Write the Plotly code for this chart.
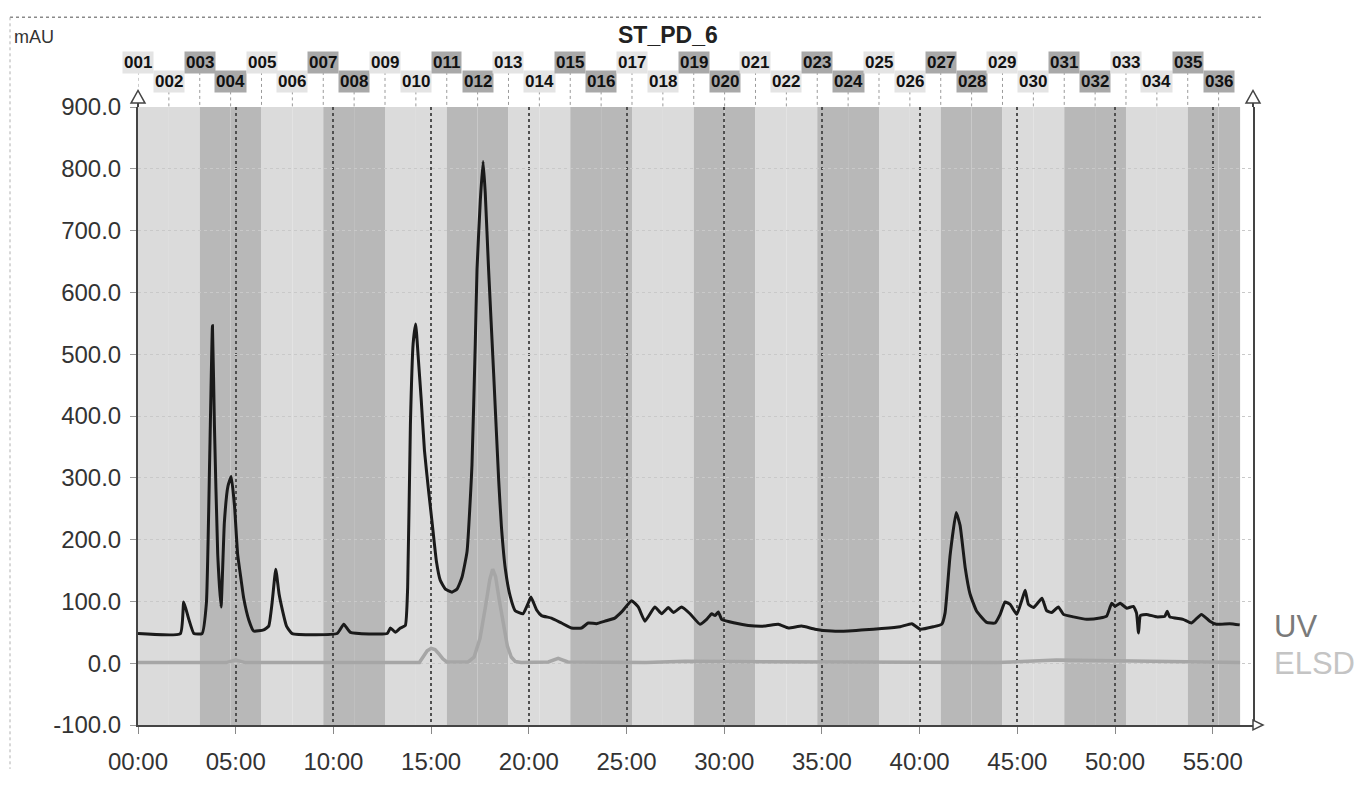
import plotly.graph_objects as go

# ---------------- data ----------------
uv_time = [0, 2.17, 2.34, 2.6, 2.86, 3.28, 3.5, 3.67, 3.81, 3.91, 4.08, 4.25, 4.42, 4.6, 4.77,
           4.94, 5.1, 5.28, 5.41, 5.67, 5.92, 6.43, 6.69, 6.86, 7.05, 7.22, 7.39, 7.6, 7.89,
           10.19, 10.53, 10.87, 12.75, 12.92, 13.17, 13.43, 13.68, 13.8, 13.94, 14.08, 14.21,
           14.35, 14.49, 14.66, 14.88, 15.05, 15.27, 15.47, 15.73, 16.07, 16.33, 16.58, 16.84,
           17.09, 17.26, 17.35, 17.52, 17.66, 17.77, 17.94, 18.2, 18.46, 18.6, 18.8, 19.05,
           19.3, 19.7, 19.94, 20.11, 20.4, 20.65, 21.16, 21.67, 22.18, 22.7, 23.04, 23.46,
           23.89, 24.4, 24.75, 25.26, 25.6, 25.94, 26.45, 26.8, 27.14, 27.4, 27.82, 28.25,
           28.76, 29.1, 29.36, 29.53, 29.7, 29.87, 30.55, 31.23, 32.09, 32.77, 33.28, 33.96,
           34.64, 35.5, 36.35, 37.2, 38.06, 39.0, 39.6, 40.03, 40.7, 41.13, 41.3, 41.56,
           41.87, 42.07, 42.33, 42.58, 42.92, 43.43, 43.86, 44.12, 44.37, 44.63, 44.97,
           45.23, 45.4, 45.57, 45.83, 46.26, 46.5, 46.76, 47.1, 47.36, 47.87, 48.55, 49.23,
           49.57, 49.83, 50.0, 50.26, 50.6, 50.94, 51.1, 51.2, 51.3, 51.6, 52.13, 52.55,
           52.67, 52.8, 53.48, 53.91, 54.42, 54.85, 55.19, 55.87, 56.38]
uv_mau = [48, 48, 99, 71, 48, 48, 97, 333, 546, 386, 176, 91, 228, 286, 302,
          254, 176, 134, 105, 70, 52, 54, 60, 97, 152, 112, 86, 60, 48,
          48, 63, 50, 48, 57, 50, 57, 61, 123, 386, 517, 549,
          491, 428, 344, 276, 228, 165, 134, 120, 115, 120, 139, 181,
          320, 517, 638, 750, 812, 761, 638, 469, 295, 220, 152, 108,
          85, 80, 95, 107, 86, 77, 73, 65, 57, 57, 65, 64,
          68, 73, 83, 101, 91, 68, 91, 80, 90, 82, 91, 80,
          63, 71, 80, 77, 83, 71, 65, 61, 60, 63, 57, 60,
          55, 52, 52, 54, 56, 59, 64, 55, 59, 63, 81, 175,
          244, 223, 155, 112, 84, 66, 65, 79, 99, 95, 79,
          102, 118, 95, 90, 105, 85, 82, 91, 79, 75, 71, 73,
          76, 97, 92, 97, 89, 92, 81, 49, 77, 79, 75, 76,
          84, 75, 71, 65, 79, 68, 63, 64, 62]

elsd_time = [0, 4.5, 5.0, 5.5, 14.4, 14.6, 14.8, 15.0, 15.2, 15.4, 15.6, 15.8, 16.9, 17.2, 17.5,
             17.8, 18.0, 18.15, 18.3, 18.5, 18.7, 18.9, 19.1, 19.3, 19.6, 21.0, 21.5, 22.0,
             26.0, 28.0, 44.0, 47.0, 50.0, 53.0, 56.4]
elsd_mau = [1, 1, 5, 1, 1, 10, 20, 24, 22, 15, 7, 2, 2, 10, 40,
            95, 135, 152, 140, 100, 60, 28, 10, 3, 1, 2, 8, 2,
            1, 3, 1, 5, 4, 2, 1]

fraction_labels = ["001", "002", "003", "004", "005", "006", "007", "008", "009", "010",
                   "011", "012", "013", "014", "015", "016", "017", "018", "019", "020",
                   "021", "022", "023", "024", "025", "026", "027", "028", "029", "030",
                   "031", "032", "033", "034", "035", "036"]
fraction_starts = [0.00, 1.58, 3.16, 4.74, 6.32, 7.90, 9.48, 11.06, 12.64, 14.22,
                   15.80, 17.38, 18.96, 20.54, 22.12, 23.70, 25.28, 26.86, 28.44, 30.02,
                   31.60, 33.18, 34.76, 36.34, 37.92, 39.50, 41.08, 42.66, 44.24, 45.82,
                   47.40, 48.98, 50.56, 52.14, 53.72, 55.30]
run_end = 56.40

x_tick_vals = [0, 5, 10, 15, 20, 25, 30, 35, 40, 45, 50, 55]
x_tick_text = ["00:00", "05:00", "10:00", "15:00", "20:00", "25:00", "30:00", "35:00",
               "40:00", "45:00", "50:00", "55:00"]
y_tick_vals = [-100, 0, 100, 200, 300, 400, 500, 600, 700, 800, 900]
y_tick_text = ["-100.0", "0.0", "100.0", "200.0", "300.0", "400.0", "500.0", "600.0",
               "700.0", "800.0", "900.0"]

title_text = "ST_PD_6"
y_unit = "mAU"

# ---------------- geometry ----------------
W, H = 1367, 787
ML, MR, MT, MB = 138, 114, 107, 46
PW, PH = W - ML - MR, H - MT - MB
XMAX = 57.06
FONT = "Liberation Sans, Arial, sans-serif"


def pxx(px):
    return (px - ML) / PW


def pyy(py):
    return (H - MB - py) / PH


LIGHT = "#dbdbdb"
DARK = "#b8b8b8"

fig = go.Figure()
fig.add_trace(go.Scatter(x=elsd_time, y=elsd_mau, mode="lines", name="ELSD",
                         line=dict(color="#a6a6a6", width=3.5), hoverinfo="skip"))
fig.add_trace(go.Scatter(x=uv_time, y=uv_mau, mode="lines", name="UV",
                         line=dict(color="#1a1a1a", width=3, shape="spline", smoothing=0.4)))

shapes = []
annotations = []
n = len(fraction_starts)
for i in range(n):
    x0 = fraction_starts[i]
    x1 = fraction_starts[i + 1] if i + 1 < n else run_end
    x1 = min(x1, run_end)
    dark = (i // 2) % 2 == 1
    shapes.append(dict(type="rect", xref="x", yref="y", x0=x0, x1=x1, y0=-100, y1=900,
                       fillcolor=DARK if dark else LIGHT, line=dict(width=0), layer="below"))
    odd = (i % 2 == 0)
    ylab = 61 if odd else 81
    annotations.append(dict(xref="x", yref="paper", x=x0, y=pyy(ylab), text=f"<b>{fraction_labels[i]}</b>",
                            showarrow=False, font=dict(family=FONT, size=17, color="#111"),
                            bgcolor="#a9a9a9" if dark else "#e4e4e4", borderpad=1,
                            xanchor="center", yanchor="middle"))
    shapes.append(dict(type="line", xref="x", yref="paper", x0=x0, x1=x0,
                       y0=pyy(ylab + 10), y1=1.0, line=dict(color="#9a9a9a", width=1, dash="dot")))

# page frame dotted lines
shapes.append(dict(type="line", xref="paper", yref="paper", x0=pxx(10), x1=pxx(1261),
                   y0=pyy(15), y1=pyy(15), line=dict(color="#8a8a8a", width=1.5, dash="dot")))
shapes.append(dict(type="line", xref="paper", yref="paper", x0=pxx(10), x1=pxx(10),
                   y0=pyy(15), y1=pyy(786), line=dict(color="#b0b0b0", width=1, dash="dot")))

# axis extensions and arrows
for ax in (ML, ML + PW):
    shapes.append(dict(type="line", xref="paper", yref="paper", x0=pxx(ax), x1=pxx(ax),
                       y0=1.0, y1=pyy(103), line=dict(color="#444", width=2)))
    shapes.append(dict(type="path", xref="paper", yref="paper",
                       path=f"M {pxx(ax-7)} {pyy(103)} L {pxx(ax)} {pyy(90)} L {pxx(ax+7)} {pyy(103)} Z",
                       fillcolor="white", line=dict(color="#444", width=1.5)))
shapes.append(dict(type="path", xref="paper", yref="paper",
                   path=f"M {pxx(ML+PW)} {pyy(736)} L {pxx(ML+PW+10)} {pyy(741)} L {pxx(ML+PW)} {pyy(746)} Z",
                   fillcolor="white", line=dict(color="#444", width=1.5)))

annotations.append(dict(xref="paper", yref="paper", x=pxx(12), y=pyy(35), text=y_unit,
                        showarrow=False, xanchor="left", yanchor="middle",
                        font=dict(family=FONT, size=18, color="#333")))
annotations.append(dict(xref="paper", yref="paper", x=pxx(668), y=pyy(33), text=f"<b>{title_text}</b>",
                        showarrow=False, xanchor="center", yanchor="middle",
                        font=dict(family=FONT, size=23, color="#222")))
annotations.append(dict(xref="paper", yref="paper", x=pxx(1272), y=pyy(640), text="UV",
                        showarrow=False, xanchor="left", yanchor="middle",
                        font=dict(family=FONT, size=31, color="#7a7a7a")))
annotations.append(dict(xref="paper", yref="paper", x=pxx(1272), y=pyy(678), text="ELSD",
                        showarrow=False, xanchor="left", yanchor="middle",
                        font=dict(family=FONT, size=31, color="#c4c4c4")))

fig.update_layout(
    width=W, height=H,
    margin=dict(l=ML, r=MR, t=MT, b=MB, pad=0),
    paper_bgcolor="white", plot_bgcolor="white",
    showlegend=False,
    shapes=shapes, annotations=annotations,
    xaxis=dict(range=[0, XMAX], tickvals=x_tick_vals, ticktext=x_tick_text,
               showgrid=True, gridcolor="#505050", gridwidth=2, griddash="dot",
               showline=True, linecolor="#444", linewidth=2, zeroline=False,
               ticks="outside", ticklen=7, tickcolor="#888", tickwidth=1,
               ticklabelstandoff=7,
               tickfont=dict(family=FONT, size=24, color="#333")),
    yaxis=dict(range=[-100, 900], tickvals=y_tick_vals, ticktext=y_tick_text,
               showgrid=True, gridcolor="#c9c9c9", gridwidth=1, griddash="dot",
               showline=True, linecolor="#444", linewidth=2, mirror=True, zeroline=False,
               ticks="outside", ticklen=6, tickcolor="#999", tickwidth=1,
               ticklabelstandoff=4,
               tickfont=dict(family=FONT, size=24, color="#333")),
)

fig.write_html("out.html", config={"displayModeBar": False},
               post_script="document.body.style.margin='0px';")
